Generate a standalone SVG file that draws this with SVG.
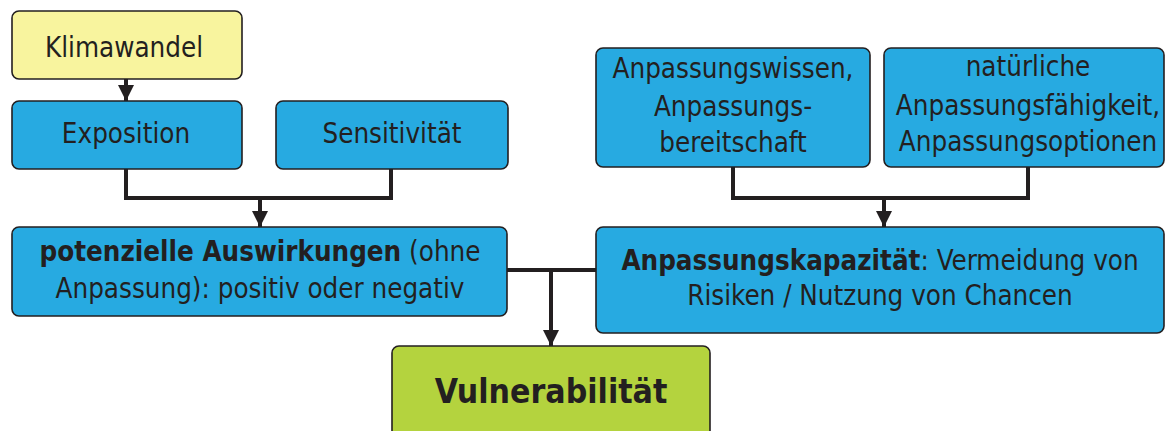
<svg xmlns="http://www.w3.org/2000/svg" width="1166" height="431" viewBox="0 0 1166 431">
  <defs>
    <marker id="arrow" markerUnits="userSpaceOnUse" markerWidth="16" markerHeight="16" viewBox="0 0 16 16" refX="16" refY="8" orient="auto">
      <path d="M0,0 L16,8 L0,16 Z" fill="#231f20"/>
    </marker>
    <style>
      .box { stroke: #231f20; stroke-width: 1.6; }
      .blue { fill: #27aae1; }
      .yellow { fill: #f8f49e; }
      .green { fill: #b4d33e; }
      .label { font-family: "DejaVu Sans Condensed", "DejaVu Sans", sans-serif; font-size: 27.5px; fill: #231f20; text-anchor: middle; }
      .b { font-weight: bold; }
      .big { font-size: 33.5px; }
      .link { fill: none; stroke: #231f20; stroke-width: 4; }
    </style>
  </defs>

  <g id="connectors">
    <!-- Klimawandel to Exposition -->
    <line class="link" x1="126" y1="79" x2="126" y2="101" marker-end="url(#arrow)"/>
    <!-- Exposition + Sensitivität merge -->
    <polyline class="link" points="126,169 126,198 391,198 391,169"/>
    <line class="link" x1="260" y1="198" x2="260" y2="227" marker-end="url(#arrow)"/>
    <!-- Right-hand factors merge -->
    <polyline class="link" points="733,167 733,198 1028,198 1028,167"/>
    <line class="link" x1="884" y1="198" x2="884" y2="227" marker-end="url(#arrow)"/>
    <!-- Impacts and capacity to vulnerability -->
    <line class="link" x1="506" y1="270" x2="597" y2="270"/>
    <line class="link" x1="551" y1="270" x2="551" y2="346" marker-end="url(#arrow)"/>
  </g>

  <g id="klimawandel">
    <rect class="box yellow" x="12" y="11" width="230" height="68" rx="7"/>
    <text class="label" x="124" y="57">Klimawandel</text>
  </g>

  <g id="exposition">
    <rect class="box blue" x="12" y="101" width="230" height="68" rx="7"/>
    <text class="label" x="126" y="143">Exposition</text>
  </g>

  <g id="sensitivitaet">
    <rect class="box blue" x="276" y="101" width="232" height="68" rx="7"/>
    <text class="label" x="392" y="143">Sensitivität</text>
  </g>

  <g id="potenzielle-auswirkungen">
    <rect class="box blue" x="12" y="227" width="495" height="89" rx="7"/>
    <text class="label" x="260" y="261"><tspan class="b">potenzielle Auswirkungen</tspan> (ohne</text>
    <text class="label" x="260" y="298">Anpassung): positiv oder negativ</text>
  </g>

  <g id="anpassungswissen">
    <rect class="box blue" x="596" y="48" width="274" height="119" rx="7"/>
    <text class="label" x="733" y="78">Anpassungswissen,</text>
    <text class="label" x="733" y="116">Anpassungs-</text>
    <text class="label" x="733" y="152">bereitschaft</text>
  </g>

  <g id="natuerliche-anpassung">
    <rect class="box blue" x="884" y="48" width="280" height="119" rx="7"/>
    <text class="label" x="1028" y="76">natürliche</text>
    <text class="label" x="1028" y="115">Anpassungsfähigkeit,</text>
    <text class="label" x="1028" y="151">Anpassungsoptionen</text>
  </g>

  <g id="anpassungskapazitaet">
    <rect class="box blue" x="596" y="227" width="568" height="106" rx="7"/>
    <text class="label" x="880" y="270"><tspan class="b">Anpassungskapazität</tspan>: Vermeidung von</text>
    <text class="label" x="880" y="305">Risiken / Nutzung von Chancen</text>
  </g>

  <g id="vulnerabilitaet">
    <rect class="box green" x="392" y="346" width="318" height="100" rx="7"/>
    <text class="label b big" x="551" y="403">Vulnerabilität</text>
  </g>
</svg>
